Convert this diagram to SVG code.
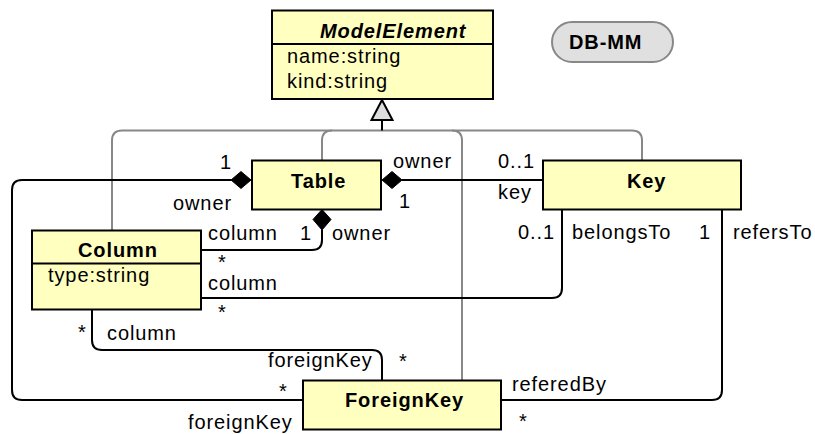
<svg xmlns="http://www.w3.org/2000/svg" width="815" height="434" viewBox="0 0 815 434">
  <style>
    text { font-family: "Liberation Sans", Arial, Helvetica, sans-serif; font-size: 20px; letter-spacing: 0.9px; fill: #000; }
    .cls { fill: #ffffc0; stroke: #000; stroke-width: 2; }
    .sep { stroke: #000; stroke-width: 2; }
    .name { font-weight: bold; }
    .abstract { font-weight: bold; font-style: italic; }
    .assoc { fill: none; stroke: #000; stroke-width: 2; }
    .gen { fill: none; stroke: #888; stroke-width: 2; }
    .diamond { fill: #000; stroke: #000; stroke-width: 1; }
  </style>

  <g id="connectors">
    <!-- generalization edges to ModelElement -->
    <g id="generalization">
      <path class="gen" d="M122,130.5 H632 Q642,130.5 642,140.5 V160.5"/>
      <path class="gen" d="M122,130.5 Q112,130.5 112,140.5 V230.5"/>
      <path class="gen" d="M332,130.5 Q322,130.5 322,140.5 V160.5"/>
      <path class="gen" d="M452,130.5 Q462,130.5 462,140.5 V380.5"/>
      <line x1="382" y1="120" x2="382" y2="130.5" stroke="#000" stroke-width="2"/>
      <polygon points="382,100 392.5,120 371.5,120" fill="#dddddd" stroke="#000" stroke-width="2" stroke-linejoin="miter"/>
    </g>

    <!-- Table (owner) to ForeignKey -->
    <path class="assoc" d="M231,180 H22 Q12,180 12,190 V390 Q12,400 22,400 H303"/>
    <polygon class="diamond" points="231,180 241,171.5 251,180 241,188.5"/>

    <!-- Table (owner) to Column -->
    <path class="assoc" d="M322,230 V240 Q322,250 312,250 H201"/>
    <polygon class="diamond" points="322,209.5 331,219.5 322,230 313,219.5"/>

    <!-- Table (owner) to Key -->
    <path class="assoc" d="M402,180 H543"/>
    <polygon class="diamond" points="382,180 392,171.5 402,180 392,188.5"/>

    <!-- Key (belongsTo) to Column -->
    <path class="assoc" d="M562,209.5 V288 Q562,298 552,298 H201"/>

    <!-- Key (refersTo) to ForeignKey -->
    <path class="assoc" d="M722,209.5 V390 Q722,400 712,400 H501"/>

    <!-- Column to ForeignKey -->
    <path class="assoc" d="M92,309.5 V340 Q92,350 102,350 H372 Q382,350 382,360 V380.5"/>
  </g>

  <!-- association end labels -->
  <g id="labels">
    <text x="220" y="169">1</text>
    <text x="173" y="210">owner</text>
    <text x="393" y="168">owner</text>
    <text x="399" y="208">1</text>
    <text x="498" y="168">0..1</text>
    <text x="498" y="199">key</text>
    <text x="208" y="240">column</text>
    <text x="300" y="240">1</text>
    <text x="332" y="240">owner</text>
    <text x="218" y="269">*</text>
    <text x="518" y="239">0..1</text>
    <text x="572" y="239">belongsTo</text>
    <text x="699" y="239">1</text>
    <text x="733" y="239">refersTo</text>
    <text x="208" y="290">column</text>
    <text x="218" y="319">*</text>
    <text x="78" y="339">*</text>
    <text x="107" y="340">column</text>
    <text x="268" y="367">foreignKey</text>
    <text x="399" y="368">*</text>
    <text x="279" y="398">*</text>
    <text x="188" y="429">foreignKey</text>
    <text x="512" y="391">referedBy</text>
    <text x="519" y="428">*</text>
  </g>

  <g id="ModelElement">
    <rect class="cls" x="272" y="10.5" width="221" height="88.5"/>
    <line class="sep" x1="272" y1="44" x2="493" y2="44"/>
    <text class="abstract" x="320" y="38">ModelElement</text>
    <text x="287" y="63">name:string</text>
    <text x="287" y="88">kind:string</text>
  </g>

  <g id="Table">
    <rect class="cls" x="252" y="160.5" width="129" height="49"/>
    <text class="name" x="291" y="188">Table</text>
  </g>

  <g id="Key">
    <rect class="cls" x="543" y="160.5" width="198" height="49"/>
    <text class="name" x="627" y="188">Key</text>
  </g>

  <g id="Column">
    <rect class="cls" x="32" y="230.5" width="169" height="79"/>
    <line class="sep" x1="32" y1="263.5" x2="201" y2="263.5"/>
    <text class="name" x="78" y="257">Column</text>
    <text x="48" y="282">type:string</text>
  </g>

  <g id="ForeignKey">
    <rect class="cls" x="303" y="380.5" width="198" height="49"/>
    <text class="name" x="345" y="407">ForeignKey</text>
  </g>

  <g id="DB-MM">
    <rect x="552" y="22" width="121" height="40" rx="20" ry="20" fill="#e0e0e0" stroke="#888" stroke-width="2"/>
    <text class="name" x="569" y="49">DB-MM</text>
  </g>
</svg>
